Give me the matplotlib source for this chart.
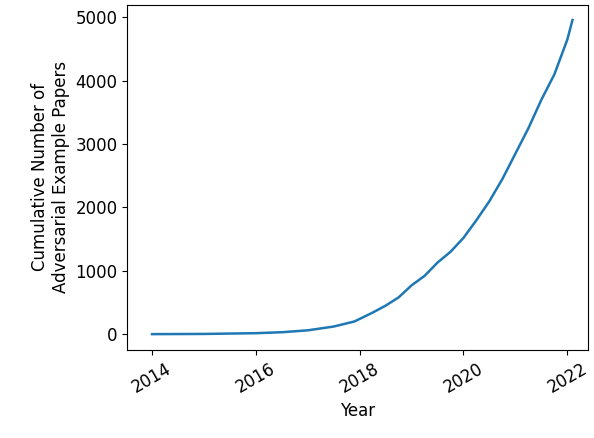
import matplotlib
matplotlib.use("Agg")
import matplotlib.pyplot as plt

# cumulative paper counts
years = [2014.0, 2015.0, 2016.0, 2016.5, 2017.0, 2017.5, 2017.9, 2018.25, 2018.5,
         2018.75, 2019.0, 2019.25, 2019.5, 2019.75, 2020.0, 2020.25, 2020.5,
         2020.75, 2021.0, 2021.25, 2021.5, 2021.75, 2022.0, 2022.1]
counts = [0, 3, 15, 30, 60, 120, 200, 340, 450, 580, 770, 920, 1130, 1300, 1520,
          1800, 2100, 2450, 2850, 3250, 3700, 4100, 4650, 4960]

fig = plt.figure(figsize=(5.94, 4.38), dpi=100)
ax = fig.add_axes([0.214, 0.201, 0.776, 0.788])
ax.plot(years, counts, color="#1f77b4", linewidth=1.8)
ax.set_xlim(2013.52, 2022.4)
ax.set_ylim(-250, 5200)
ax.set_xticks([2014, 2016, 2018, 2020, 2022])
ax.set_yticks([0, 1000, 2000, 3000, 4000, 5000])
ax.tick_params(labelsize=12)
plt.setp(ax.get_xticklabels(), rotation=30)
ax.set_xlabel("Year", fontsize=12)
ax.set_ylabel("Cumulative Number of\nAdversarial Example Papers", fontsize=12)
fig.savefig("out.png", dpi=100)
